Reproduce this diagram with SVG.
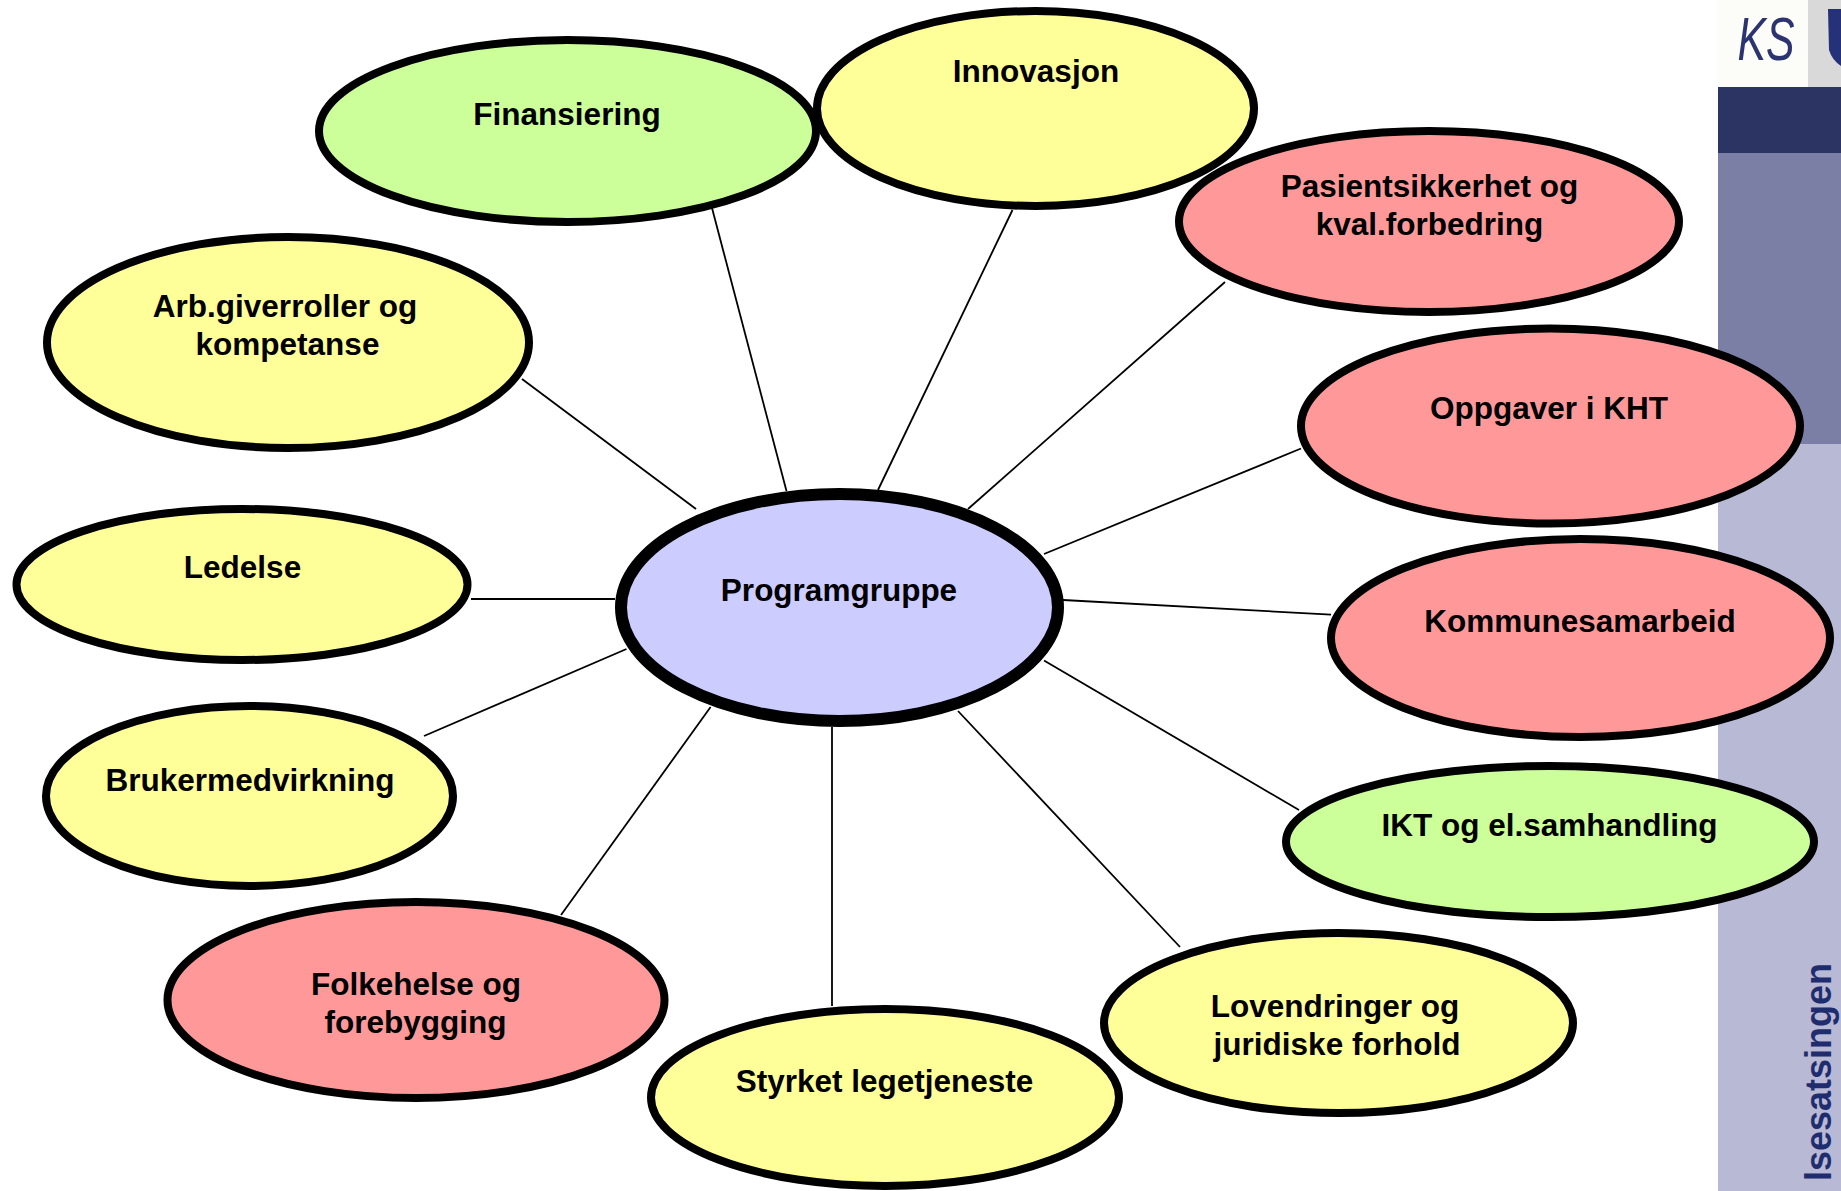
<svg xmlns="http://www.w3.org/2000/svg" width="1841" height="1191" viewBox="0 0 1841 1191">
<style>
.n{stroke:#000;stroke-width:8}
.y{fill:#FFFF99}
.g{fill:#CCFF99}
.p{fill:#FF9999}
.c{fill:#CCCCFF;stroke:#000;stroke-width:12}
.t{font-family:"Liberation Sans",Arial,sans-serif;font-weight:bold;font-size:31.5px;fill:#000;text-anchor:middle}
#connectors line{stroke:#000;stroke-width:1.8}
</style>
<rect width="1841" height="1191" fill="#fff"/>
<g id="sidebar">
<rect x="1718" y="0" width="90" height="87" fill="#fcfcf9"/>
<rect x="1808" y="0" width="33" height="87" fill="#d9d9d9"/>
<text x="1766" y="60" font-family="'Liberation Sans',Arial,sans-serif" font-style="italic" font-size="62" fill="#2b3470" text-anchor="middle" textLength="57" lengthAdjust="spacingAndGlyphs">KS</text>
<path d="M1828 9 L1841 9 L1841 66 Q1832 60 1829 50 Z" fill="#25327a"/>
<rect x="1718" y="87" width="123" height="66" fill="#2b3462"/>
<rect x="1718" y="153" width="123" height="291" fill="#7b7fa6"/>
<rect x="1718" y="444" width="123" height="747" fill="#b8b9d5"/>
<text transform="translate(1831,963) rotate(-90)" font-family="'Liberation Sans',Arial,sans-serif" font-weight="bold" font-size="36" fill="#1f2d6e" text-anchor="end">lsesatsingen</text>
</g>
<g id="connectors">
<line x1="712" y1="208" x2="786.5" y2="491"/>
<line x1="1012.5" y1="210" x2="878" y2="490"/>
<line x1="1225" y1="282" x2="968" y2="509"/>
<line x1="1301" y1="448.5" x2="1044" y2="554"/>
<line x1="1063" y1="600" x2="1331" y2="614.7"/>
<line x1="1044" y1="660.5" x2="1299" y2="810"/>
<line x1="958" y1="711" x2="1180" y2="947"/>
<line x1="832" y1="727" x2="832" y2="1006"/>
<line x1="710.6" y1="707" x2="561" y2="915"/>
<line x1="626.5" y1="649" x2="424" y2="736"/>
<line x1="471" y1="599" x2="615" y2="599"/>
<line x1="522" y1="379" x2="696" y2="509"/>
</g>
<g id="finansiering"><ellipse class="n g" cx="567.5" cy="131" rx="248.5" ry="91"/><text class="t" x="567" y="125">Finansiering</text></g>
<g id="innovasjon"><ellipse class="n y" cx="1035.5" cy="108.5" rx="218.5" ry="97.5"/><text class="t" x="1036" y="82">Innovasjon</text></g>
<g id="pasientsikkerhet"><ellipse class="n p" cx="1429" cy="221.5" rx="250" ry="90.5"/><text class="t" x="1429.5" y="197">Pasientsikkerhet og</text><text class="t" x="1429.5" y="235">kval.forbedring</text></g>
<g id="oppgaver"><ellipse class="n p" cx="1550.5" cy="426" rx="249.5" ry="97.5"/><text class="t" x="1549" y="419">Oppgaver i KHT</text></g>
<g id="kommunesamarbeid"><ellipse class="n p" cx="1580.5" cy="638" rx="249.5" ry="99"/><text class="t" x="1580" y="632">Kommunesamarbeid</text></g>
<g id="ikt"><ellipse class="n g" cx="1550" cy="841.5" rx="264" ry="75.5"/><text class="t" x="1549.5" y="836">IKT og el.samhandling</text></g>
<g id="lovendringer"><ellipse class="n y" cx="1338.5" cy="1023" rx="234.5" ry="90"/><text class="t" x="1335" y="1017">Lovendringer og</text><text class="t" x="1337" y="1055">juridiske forhold</text></g>
<g id="styrket"><ellipse class="n y" cx="885" cy="1097.5" rx="234" ry="88.5"/><text class="t" x="884.5" y="1092">Styrket legetjeneste</text></g>
<g id="folkehelse"><ellipse class="n p" cx="416" cy="1000" rx="248.5" ry="98"/><text class="t" x="416" y="995">Folkehelse og</text><text class="t" x="415.5" y="1033">forebygging</text></g>
<g id="brukermedvirkning"><ellipse class="n y" cx="249.5" cy="796" rx="203.5" ry="90"/><text class="t" x="250" y="791">Brukermedvirkning</text></g>
<g id="ledelse"><ellipse class="n y" cx="242" cy="584.5" rx="225.5" ry="75.5"/><text class="t" x="242.5" y="577.5">Ledelse</text></g>
<g id="arbeidsgiverroller"><ellipse class="n y" cx="288" cy="342.5" rx="241" ry="105.5"/><text class="t" x="285" y="317">Arb.giverroller og</text><text class="t" x="287.5" y="355">kompetanse</text></g>
<g id="programgruppe"><ellipse class="c" cx="839.5" cy="607.5" rx="218.5" ry="113.5"/><text class="t" x="839" y="601">Programgruppe</text></g>
</svg>
